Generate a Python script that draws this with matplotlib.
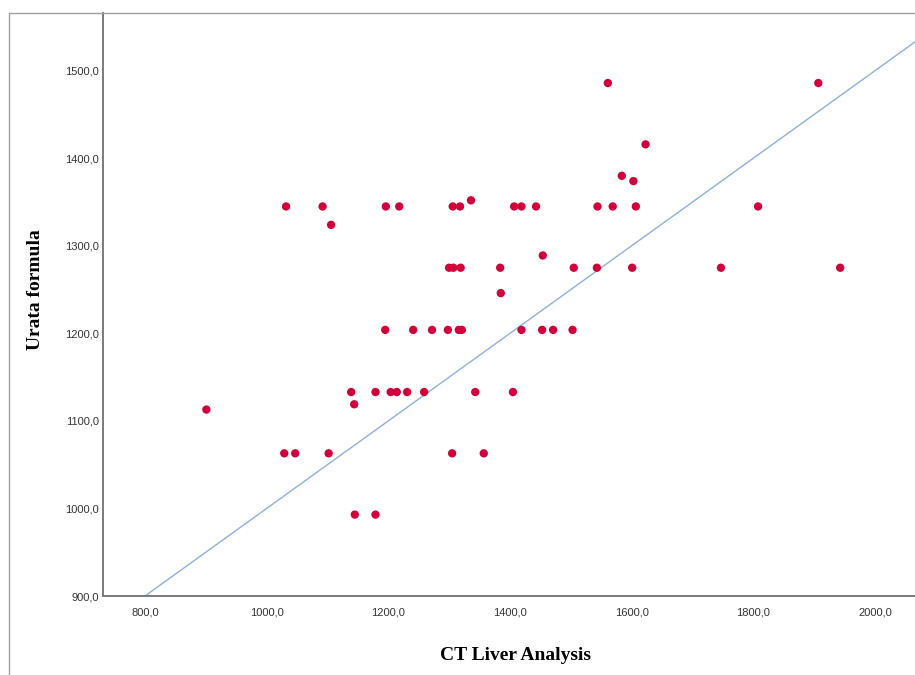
import numpy as np
import matplotlib
matplotlib.use("Agg")
import matplotlib.pyplot as plt
from matplotlib.ticker import FuncFormatter, FixedLocator
from matplotlib.lines import Line2D

# CT liver analysis vs. Urata formula estimates
ct_liver = [
    1032, 1092, 1196, 1218, 1306, 1318, 1407, 1419, 1443, 1544, 1569, 1607, 1808,
    1106, 1336,
    1300, 1307, 1319, 1384, 1505, 1543, 1601, 1747, 1943,
    1195, 1241, 1272, 1298, 1316, 1321, 1419, 1453, 1471, 1503,
    1139, 1179, 1204, 1214, 1231, 1259, 1343, 1405,
    1144, 901,
    1029, 1047, 1102, 1305, 1357,
    1145, 1179,
    1561, 1907, 1623, 1584, 1603, 1454, 1385,
]
urata_formula = [
    1345, 1345, 1345, 1345, 1345, 1345, 1345, 1345, 1345, 1345, 1345, 1345, 1345,
    1324, 1352,
    1275, 1275, 1275, 1275, 1275, 1275, 1275, 1275, 1275,
    1204, 1204, 1204, 1204, 1204, 1204, 1204, 1204, 1204, 1204,
    1133, 1133, 1133, 1133, 1133, 1133, 1133, 1133,
    1119, 1113,
    1063, 1063, 1063, 1063, 1063,
    993, 993,
    1486, 1486, 1416, 1380, 1374, 1289, 1246,
]

# reference line: urata = line_intercept + line_slope * ct
line_intercept = 500.0
line_slope = 0.5

x_ticks = [800, 1000, 1200, 1400, 1600, 1800, 2000]
y_ticks = [900, 1000, 1100, 1200, 1300, 1400, 1500]

W, H = 915, 675
fig = plt.figure(figsize=(W / 100, H / 100), dpi=100)
fig.patch.set_facecolor("white")

# plot area in pixel terms
left_px, right_px, top_px, bottom_px = 103, 915, 13, 596
ax = fig.add_axes([left_px / W, 1 - bottom_px / H,
                   (right_px - left_px) / W, (bottom_px - top_px) / H])

ax.set_xlim(731, 2066)
ax.set_ylim(900, 1566)

xs = np.array(ax.get_xlim())
ax.plot(xs, line_intercept + line_slope * xs, color="#8db0da", lw=1.0, zorder=2)

ax.scatter(ct_liver, urata_formula, s=36, color="#d2003a", edgecolors="none", zorder=3)

fmt = FuncFormatter(lambda v, p: f"{v:.1f}".replace(".", ","))
ax.xaxis.set_major_locator(FixedLocator(x_ticks))
ax.yaxis.set_major_locator(FixedLocator(y_ticks))
ax.xaxis.set_major_formatter(fmt)
ax.yaxis.set_major_formatter(fmt)
ax.tick_params(axis="both", length=0, labelsize=8, labelcolor="#333333")
ax.tick_params(axis="x", pad=8)
ax.tick_params(axis="y", pad=3)
for lab in ax.get_xticklabels() + ax.get_yticklabels():
    lab.set_family("Liberation Sans")

for side in ("top", "right"):
    ax.spines[side].set_visible(False)
for side in ("left", "bottom"):
    ax.spines[side].set_color("#7a7a7a")
    ax.spines[side].set_linewidth(1.4)

label_font = dict(family="Liberation Serif", weight="bold", size=14, color="black")
ax.set_xlabel("CT Liver Analysis", **label_font)
ax.set_ylabel("Urata formula", **label_font)
ax.xaxis.set_label_coords((516 - left_px) / (right_px - left_px),
                          (bottom_px - 655) / (bottom_px - top_px))
ax.yaxis.set_label_coords((35 - left_px) / (right_px - left_px),
                          (bottom_px - 290) / (bottom_px - top_px))
ax.xaxis.label.set_va("center")
ax.yaxis.label.set_va("center")
ax.yaxis.label.set_ha("center")

# outer chart frame
fx = 9 / W
fy = 1 - 13 / H
fig.add_artist(Line2D([fx, 1], [fy, fy], transform=fig.transFigure,
                      color="#a0a0a0", lw=1.0))
fig.add_artist(Line2D([fx, fx], [0, fy], transform=fig.transFigure,
                      color="#a0a0a0", lw=1.0))

fig.savefig("out.png", dpi=100, facecolor="white")
